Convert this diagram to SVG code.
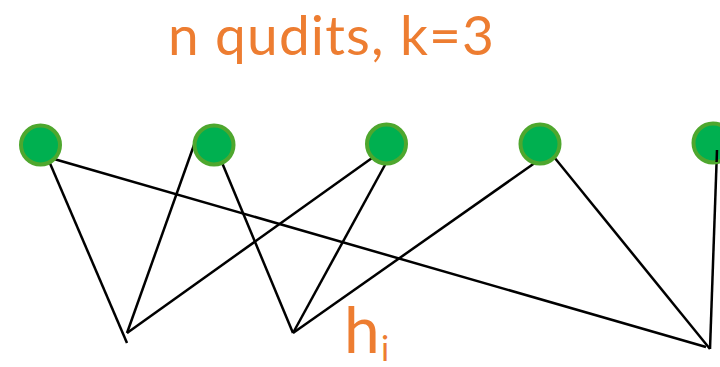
<svg xmlns="http://www.w3.org/2000/svg" width="720" height="367" viewBox="0 0 720 367">
  <style>
    .qudit { fill: #00b050; stroke: #4ea72e; stroke-width: 4; }
    .edge { stroke: #000; stroke-width: 2.5; fill: none; stroke-linecap: butt; }
    .label { fill: #ed7d31; font-family: Lato, "Open Sans", "Liberation Sans", sans-serif; }
  </style>
  <rect width="720" height="367" fill="#fff"/>

  <g id="title">
    <text class="label" x="168" y="55" font-size="55" textLength="326" lengthAdjust="spacing">n qudits, k=3</text>
  </g>

  <g id="connectors">
    <line class="edge" x1="49" y1="161" x2="127" y2="343"/>
    <line class="edge" x1="54" y1="159" x2="706" y2="347"/>
    <line class="edge" x1="194" y1="145" x2="127" y2="333"/>
    <line class="edge" x1="218" y1="153" x2="293" y2="333"/>
    <line class="edge" x1="372" y1="158" x2="127" y2="333"/>
    <line class="edge" x1="386" y1="163" x2="293" y2="333"/>
    <line class="edge" x1="539" y1="160" x2="293" y2="333"/>
    <line class="edge" x1="554" y1="157" x2="710" y2="349"/>
    <line class="edge" x1="717" y1="150" x2="710" y2="349"/>
  </g>

  <g id="q1"><circle class="qudit" cx="40.5" cy="145" r="19.5"/></g>
  <g id="q2"><circle class="qudit" cx="214" cy="145" r="19.5"/></g>
  <g id="q3"><circle class="qudit" cx="386.5" cy="144" r="19.5"/></g>
  <g id="q4"><circle class="qudit" cx="540" cy="144" r="19.5"/></g>
  <g id="q5"><circle class="qudit" cx="713" cy="143" r="19.5"/></g>

  <g id="term">
    <text class="label" x="344" y="353" font-size="64">h</text>
    <text class="label" x="381" y="361" font-size="34">i</text>
  </g>

  <!-- the last edge starts inside the fifth qudit -->
  <g id="connector-tips">
    <line class="edge" x1="717" y1="150" x2="716.6" y2="162"/>
  </g>
</svg>
